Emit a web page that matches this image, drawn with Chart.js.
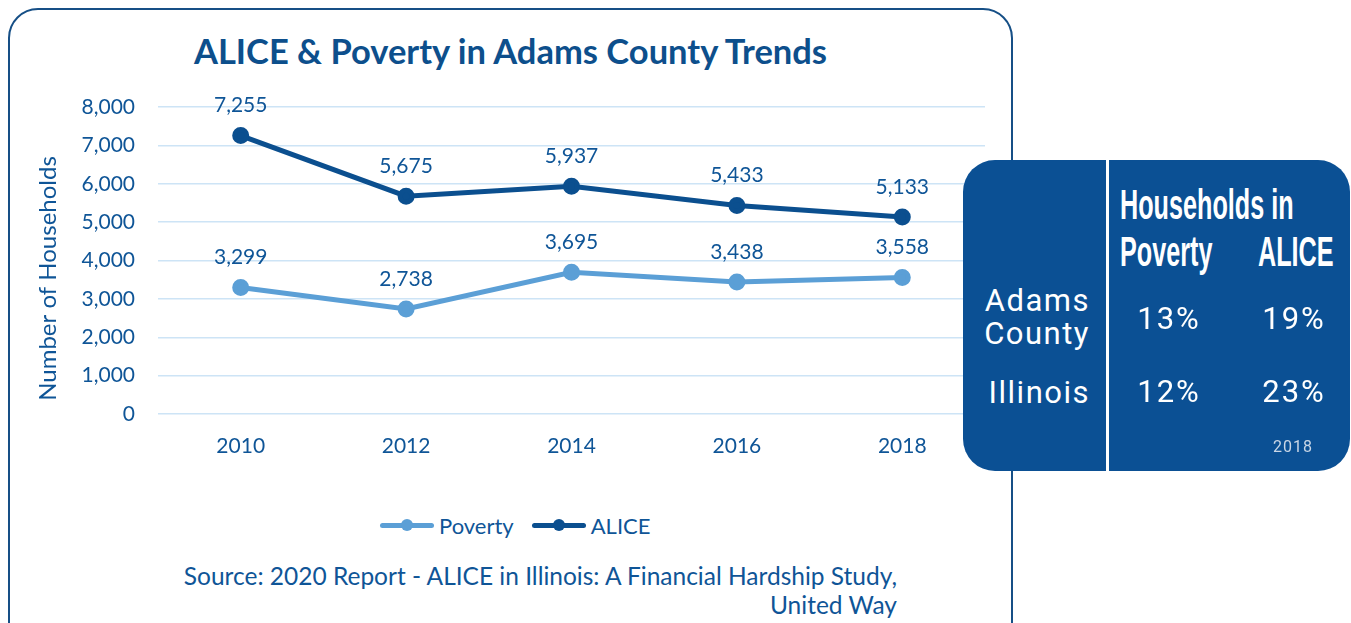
<!DOCTYPE html>
<html>
<head>
<meta charset="utf-8">
<script src="https://cdn.jsdelivr.net/npm/chart.js@4.4.1/dist/chart.umd.min.js"></script>
<style>
  body { margin: 0; background: #fff; width: 1351px; height: 623px; overflow: hidden; position: relative; font-family: Lato, sans-serif; }
  .card { position: absolute; left: 8px; top: 8px; width: 1005px; height: 660px; border: 2px solid #164f86; border-radius: 30px; box-sizing: border-box; }
  .titulo { position: absolute; left: 8px; width: 1005px; top: 30px; text-align: center; font: bold 34.5px Lato, sans-serif; color: #0d4f8c; }
  .grafico { position: absolute; left: 8px; top: 8px; width: 1005px; height: 466px; }
  .legenda { position: absolute; top: 512px; left: 380px; font: 22px Lato, sans-serif; color: #0f5597; display: flex; align-items: center; }
  .item { display: flex; align-items: center; margin-right: 18px; }
  .marca { position: relative; width: 54px; height: 5px; border-radius: 3px; margin-right: 5px; }
  .marca i { position: absolute; left: 21px; top: -4px; width: 12px; height: 12px; border-radius: 50%; background: inherit; }
  .fonte { position: absolute; right: 454px; top: 561px; text-align: right; font: 24.5px Lato, sans-serif; color: #0f5597; line-height: 29px; }
  .tabela { position: absolute; left: 963px; top: 160px; width: 387px; height: 311px; background: #0b5094; border-radius: 32px; color: #fff; font-family: Roboto, sans-serif; }
  .divisor { position: absolute; left: 143px; top: 0; width: 3px; height: 311px; background: #fff; }
  .cab { position: absolute; font: bold 42px "Liberation Sans Narrow", sans-serif; transform: scale(0.6, 1); transform-origin: left center; white-space: nowrap; line-height: 42px; }
  .lin { position: absolute; right: 260px; text-align: right; font-size: 31px; line-height: 33px; letter-spacing: 1.5px; }
  .val { position: absolute; width: 110px; text-align: center; font-size: 31px; line-height: 32px; letter-spacing: 2px; }
  .ano { position: absolute; left: 280px; width: 100px; top: 277px; text-align: center; font-size: 16px; color: #c9d6e6; letter-spacing: 1px; }
</style>
</head>
<body>
<div class="card"></div>
<div class="titulo">ALICE &amp; Poverty in Adams County Trends</div>
<div class="grafico"><canvas id="aliceChart"></canvas></div>
<div class="legenda">
  <div class="item"><span class="marca" style="background:#5b9fd6"><i></i></span>Poverty</div>
  <div class="item"><span class="marca" style="background:#0b4f8f"><i></i></span>ALICE</div>
</div>
<div class="fonte">Source: 2020 Report - ALICE in Illinois: A Financial Hardship Study,<br>United Way</div>

<div class="tabela">
  <div class="divisor"></div>
  <div class="cab" style="left:157px; top:24px">Households in</div>
  <div class="cab" style="left:157px; top:71px">Poverty</div>
  <div class="cab" style="left:295px; top:71px">ALICE</div>
  <div class="lin" style="top:124px">Adams<br>County</div>
  <div class="val" style="left:151px; top:143px">13%</div>
  <div class="val" style="left:276px; top:143px">19%</div>
  <div class="lin" style="top:216px">Illinois</div>
  <div class="val" style="left:151px; top:216px">12%</div>
  <div class="val" style="left:276px; top:216px">23%</div>
  <div class="ano">2018</div>
</div>

<script>
const anos = ['2010', '2012', '2014', '2016', '2018'];
const pobreza = [3299, 2738, 3695, 3438, 3558];
const alice = [7255, 5675, 5937, 5433, 5133];
const ticksY = [0, 1000, 2000, 3000, 4000, 5000, 6000, 7000, 8000];

const corTexto = '#0f5597';

// Plugin simples: valores acima dos pontos e o título do eixo Y
const rotulosPlugin = {
    id: 'rotulos',
    afterDatasetsDraw(chart) {
        const ctx = chart.ctx;
        ctx.save();
        ctx.font = '21px Lato, sans-serif';
        ctx.fillStyle = corTexto;
        ctx.textAlign = 'center';
        ctx.textBaseline = 'middle';
        chart.data.datasets.forEach((ds, i) => {
            chart.getDatasetMeta(i).data.forEach((pt, j) => {
                ctx.fillText(ds.data[j].toLocaleString('en-US'), pt.x, pt.y - 30);
            });
        });
        // título do eixo Y, um pouco abaixo do centro como no original
        ctx.font = '24px Lato, sans-serif';
        ctx.translate(40, chart.chartArea.top + chart.chartArea.height / 2 + 18);
        ctx.rotate(-Math.PI / 2);
        ctx.fillText('Number of Households', 0, 0);
        ctx.restore();
    }
};

new Chart(document.getElementById('aliceChart'), {
    type: 'line',
    data: {
        labels: anos,
        datasets: [
            {
                label: 'Poverty',
                data: pobreza,
                borderColor: '#5b9fd6',
                backgroundColor: '#5b9fd6',
                borderWidth: 5,
                pointRadius: 6,
                tension: 0
            },
            {
                label: 'ALICE',
                data: alice,
                borderColor: '#0b4f8f',
                backgroundColor: '#0b4f8f',
                borderWidth: 5,
                pointRadius: 6,
                tension: 0
            }
        ]
    },
    options: {
        responsive: true,
        maintainAspectRatio: false,
        animation: false,
        layout: { padding: { top: 99, right: 28, left: 0, bottom: 0 } },
        plugins: { legend: { display: false }, tooltip: { enabled: false } },
        scales: {
            x: {
                offset: true,
                grid: { display: false },
                border: { display: false },
                ticks: { color: corTexto, font: { family: 'Lato', size: 21 }, padding: 12 },
                afterFit: s => { s.height = 60; }
            },
            y: {
                min: 0,
                max: 8000,
                afterBuildTicks: s => { s.ticks = ticksY.map(v => ({ value: v })); },
                grid: { color: '#cde4f6', lineWidth: 1.5, drawTicks: false },
                border: { display: false },
                ticks: {
                    color: corTexto,
                    font: { family: 'Lato', size: 21 },
                    padding: 23,
                    callback: v => v.toLocaleString('en-US')
                },
                afterFit: s => { s.width = 150; }
            }
        }
    },
    plugins: [rotulosPlugin]
});
</script>
</body>
</html>
